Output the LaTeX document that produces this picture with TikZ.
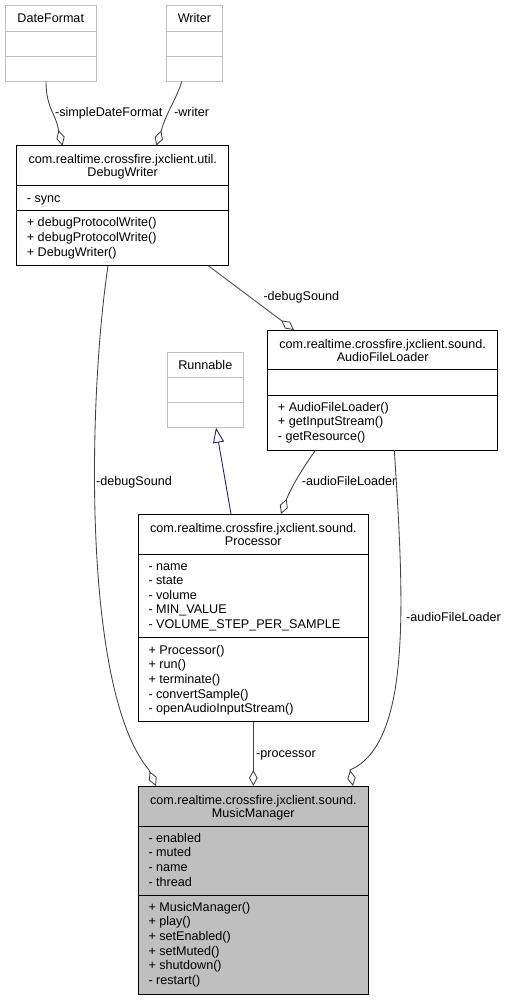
\documentclass[tikz,border=0pt]{standalone}
\usepackage{fontspec}
\setmainfont{Liberation Sans}
\usetikzlibrary{arrows.meta}
\definecolor{edgegray}{HTML}{404040}
\definecolor{extgray}{HTML}{BFBFBF}
\definecolor{inhblue}{HTML}{191970}
\begin{document}
\begin{tikzpicture}[x=1pt,y=-1pt,
  box/.style={draw=black, line width=1pt, fill=white, inner sep=0pt, outer sep=0pt, anchor=north west},
  extbox/.style={box, draw=extgray},
  sepl/.style={line width=1pt, draw=black},
  extsep/.style={line width=1pt, draw=extgray},
  txt/.style={inner sep=0pt, text height=9pt, text depth=0pt, font=\fontsize{12.6}{14.7}\selectfont},
  mem/.style={txt, anchor=west},
  hdr/.style={txt, anchor=center},
  assoc/.style={draw=edgegray, line width=0.85pt, -{Diamond[open, length=16pt, width=8.5pt]}},
  inherit/.style={draw=inhblue, line width=0.85pt, -{Triangle[open, length=15pt, width=11pt]}}]
\useasboundingbox (0,0) rectangle (507,1000);

% DateFormat
\node[extbox, minimum width=90.5pt, minimum height=76pt] (df) at (5.5,5.5) {};
\draw[extsep] (5.5,31.5) -- (96,31.5);
\draw[extsep] (5.5,56.5) -- (96,56.5);
\node[hdr] (df-t) at (50.75,17.8) {DateFormat};

% Writer
\node[extbox, minimum width=55.6pt, minimum height=76pt] (wr) at (166.7,5.5) {};
\draw[extsep] (166.7,31.5) -- (222.3,31.5);
\draw[extsep] (166.7,56.5) -- (222.3,56.5);
\node[hdr] (wr-t) at (194.5,17.8) {Writer};

% DebugWriter
\node[box, minimum width=212pt, minimum height=120pt] (dw) at (16.7,145.7) {};
\draw[sepl] (16.7,186) -- (228.7,186);
\draw[sepl] (16.7,210.7) -- (228.7,210.7);
\node[hdr] (dw-h1) at (122.7,159) {com.realtime.crossfire.jxclient.util.};
\node[hdr] (dw-h2) at (122.7,172.4) {DebugWriter};
\node[mem] (dw-a1) at (26.7,197.7) {- sync};
\foreach \t [count=\i] in {+ debugProtocolWrite(), + debugProtocolWrite(), + DebugWriter()}
  \node[mem] (dw-m\i) at (26.7,{222.5+14.7*(\i-1)}) {\t};

% Runnable
\node[extbox, minimum width=76pt, minimum height=75.4pt] (rn) at (167.3,352.3) {};
\draw[extsep] (167.3,377.3) -- (243.3,377.3);
\draw[extsep] (167.3,402.7) -- (243.3,402.7);
\node[hdr] (rn-t) at (205.3,364.5) {Runnable};

% AudioFileLoader
\node[box, minimum width=230pt, minimum height=120pt] (afl) at (267.7,330) {};
\draw[sepl] (267.7,369) -- (497.7,369);
\draw[sepl] (267.7,395) -- (497.7,395);
\node[hdr] (afl-h1) at (382.7,343.5) {com.realtime.crossfire.jxclient.sound.};
\node[hdr] (afl-h2) at (382.7,357) {AudioFileLoader};
\foreach \t [count=\i] in {+ AudioFileLoader(), + getInputStream(), - getResource()}
  \node[mem] (afl-m\i) at (277.7,{406.7+14.7*(\i-1)}) {\t};

% Processor
\node[box, minimum width=230pt, minimum height=207.7pt] (proc) at (138.3,514) {};
\draw[sepl] (138.3,554) -- (368.3,554);
\draw[sepl] (138.3,637.3) -- (368.3,637.3);
\node[hdr] (proc-h1) at (253.3,527.5) {com.realtime.crossfire.jxclient.sound.};
\node[hdr] (proc-h2) at (253.3,541) {Processor};
\foreach \t [count=\i] in {- name, - state, - volume, - MIN\_VALUE, - VOLUME\_STEP\_PER\_SAMPLE}
  \node[mem] (proc-a\i) at (148.3,{565.5+14.65*(\i-1)}) {\t};
\foreach \t [count=\i] in {+ Processor(), + run(), + terminate(), - convertSample(), - openAudioInputStream()}
  \node[mem] (proc-m\i) at (148.3,{649.8+14.65*(\i-1)}) {\t};

% MusicManager
\node[box, fill=extgray, minimum width=230pt, minimum height=208.3pt] (mm) at (138.3,786) {};
\draw[sepl] (138.3,826.7) -- (368.3,826.7);
\draw[sepl] (138.3,895) -- (368.3,895);
\node[hdr] (mm-h1) at (253.3,799.5) {com.realtime.crossfire.jxclient.sound.};
\node[hdr] (mm-h2) at (253.3,813) {MusicManager};
\foreach \t [count=\i] in {- enabled, - muted, - name, - thread}
  \node[mem] (mm-a\i) at (148.3,{837.5+14.7*(\i-1)}) {\t};
\foreach \t [count=\i] in {+ MusicManager(), + play(), + setEnabled(), + setMuted(), + shutdown(), - restart()}
  \node[mem] (mm-m\i) at (148.3,{906.7+14.65*(\i-1)}) {\t};

% edge labels
\node[mem] (l-sdf) at (55,112.3) {-simpleDateFormat};
\node[mem] (l-wr) at (174,112.3) {-writer};
\node[mem] (l-ds1) at (263.3,296) {-debugSound};
\node[mem] (l-ds2) at (96,481) {-debugSound};
\node[mem] (l-afl1) at (301.7,480.7) {-audioFileLoader};
\node[mem] (l-afl2) at (406,616.7) {-audioFileLoader};
\node[mem] (l-proc) at (256,752.7) {-processor};

% edges
\draw[assoc] ([xshift=40.5pt]df.south west) .. controls (46,108) and (56,114) .. (58.5,130) -- ([xshift=45.8pt]dw.north west);
\draw[assoc] ([xshift=15pt]wr.south west) .. controls (177,98) and (166,113) .. (161.5,130) -- ([xshift=139.6pt]dw.north west);
\draw[assoc] ([xshift=191.6pt]dw.south west) -- ([xshift=26.3pt]afl.north west);
\draw[assoc] ([xshift=91.3pt]dw.south west) .. controls (88,400) and (82,690) .. (149,770) -- ([xshift=17.7pt]mm.north west);
\draw[inherit] ([xshift=92.7pt]proc.north west) -- ([xshift=48.7pt]rn.south west);
\draw[assoc] ([xshift=48pt]afl.south west) .. controls (305,465) and (294,482) .. (287,498) -- ([xshift=142.7pt]proc.north west);
\draw[assoc] ([xshift=126.6pt]afl.south west) .. controls (404,600) and (412,743) .. (350,770) -- ([xshift=214.7pt]mm.north west);
\draw[assoc] (proc.south) -- (mm.north);
\end{tikzpicture}
\end{document}
